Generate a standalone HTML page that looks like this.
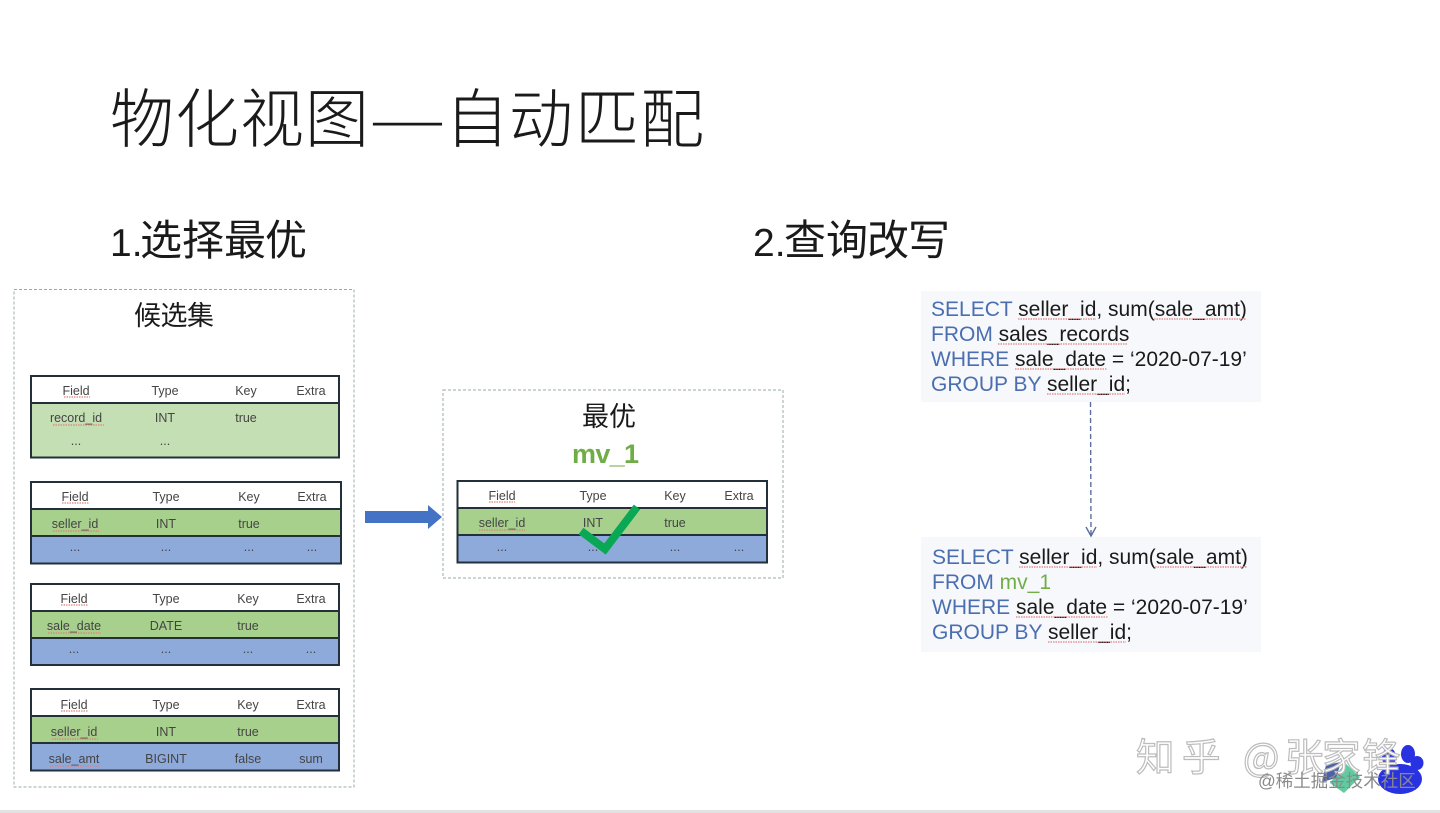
<!DOCTYPE html>
<html lang="zh">
<head>
<meta charset="utf-8">
<title>物化视图—自动匹配</title>
<style>
html,body{margin:0;padding:0;background:#fff;width:1440px;height:813px;overflow:hidden}
svg{display:block;filter:blur(0.35px)}
text{font-family:"Liberation Sans","Noto Sans CJK SC",sans-serif}
.cjk{font-family:"Noto Sans CJK SC","WenQuanYi Zen Hei",sans-serif;font-weight:300;fill:#1a1a1a}
.sub{font-family:"Noto Sans CJK SC","WenQuanYi Zen Hei",sans-serif;font-weight:400;fill:#1a1a1a}
.t text{font-size:12.5px;fill:#444;text-anchor:middle}
.t rect,.t line{stroke:#23303a;stroke-width:2}
.t .w{fill:none;stroke:#e0807c;stroke-width:1.2;stroke-dasharray:1.5 1}
.code{font-size:21px;fill:#1a1a1a}
.code .k{fill:#4a6eb0}
.u{fill:none;stroke:#e0807c;stroke-width:1.2;stroke-dasharray:1.5 1}
.wm{font-family:"Noto Sans CJK SC",sans-serif;font-size:38.5px;fill:#fff;stroke:#bcbcbc;stroke-width:1.2}
</style>
</head>
<body>
<svg width="1440" height="813" viewBox="0 0 1440 813" xmlns="http://www.w3.org/2000/svg">
<rect x="0" y="0" width="1440" height="813" fill="#fff"/>
<rect x="0" y="810" width="1440" height="3" fill="#e2e2e2"/>

<text class="cjk" font-size="64" x="110 175 240 305" y="142">物化视图</text>
<text class="cjk" font-size="64" x="369" y="142" textLength="77" lengthAdjust="spacingAndGlyphs">—</text>
<text class="cjk" font-size="64" x="445 509 575 640" y="142">自动匹配</text>
<text font-size="39" x="110" y="256" fill="#1a1a1a">1.</text>
<text class="sub" font-size="42" x="140 182 224 265" y="255">选择最优</text>
<text font-size="39" x="753" y="256" fill="#1a1a1a">2.</text>
<text class="sub" font-size="42" x="784 826 867 908" y="255">查询改写</text>

<rect x="14" y="289.500" width="340" height="497.500" fill="none" stroke="#9aa8a8" stroke-width="1" stroke-dasharray="3 2"/>
<rect x="443" y="390" width="340" height="188" fill="none" stroke="#9aa8a8" stroke-width="1" stroke-dasharray="3 2"/>

<text class="sub" font-size="27" x="134" y="325" textLength="80">候选集</text>
<text class="sub" font-size="27" x="582" y="426" textLength="54">最优</text>
<text font-size="27" font-weight="700" x="572" y="463" fill="#70ad47" textLength="67">mv_1</text>

<!-- Table 1 -->
<g class="t">
<rect x="31" y="376" width="308" height="27" fill="#fff"/>
<rect x="31" y="403" width="308" height="54.500" fill="#c5dfb4"/>
<text x="76" y="395">Field</text><text x="165" y="395">Type</text><text x="246" y="395">Key</text><text x="311" y="395">Extra</text>
<text x="76" y="422">record_id</text><text x="165" y="422">INT</text><text x="246" y="422">true</text>
<text x="76" y="445">...</text><text x="165" y="445">...</text>
<line class="w" x1="64" y1="397" x2="90" y2="397"/><line class="w" x1="53" y1="425" x2="104" y2="425"/>
</g>
<!-- Table 2 -->
<g class="t">
<rect x="31" y="482" width="310" height="27" fill="#fff"/>
<rect x="31" y="509" width="310" height="27" fill="#a8d08d"/>
<rect x="31" y="536" width="310" height="27.500" fill="#8eaadb"/>
<text x="75" y="501">Field</text><text x="166" y="501">Type</text><text x="249" y="501">Key</text><text x="312" y="501">Extra</text>
<text x="75" y="528">seller_id</text><text x="166" y="528">INT</text><text x="249" y="528">true</text>
<text x="75" y="551">...</text><text x="166" y="551">...</text><text x="249" y="551">...</text><text x="312" y="551">...</text>
<line class="w" x1="62" y1="503" x2="89" y2="503"/><line class="w" x1="53" y1="531" x2="99" y2="531"/>
</g>
<!-- Table 3 -->
<g class="t">
<rect x="31" y="584" width="308" height="27" fill="#fff"/>
<rect x="31" y="611" width="308" height="27" fill="#a8d08d"/>
<rect x="31" y="638" width="308" height="27" fill="#8eaadb"/>
<text x="74" y="603">Field</text><text x="166" y="603">Type</text><text x="248" y="603">Key</text><text x="311" y="603">Extra</text>
<text x="74" y="630">sale_date</text><text x="166" y="630">DATE</text><text x="248" y="630">true</text>
<text x="74" y="653">...</text><text x="166" y="653">...</text><text x="248" y="653">...</text><text x="311" y="653">...</text>
<line class="w" x1="61" y1="605" x2="88" y2="605"/><line class="w" x1="48" y1="633" x2="101" y2="633"/>
</g>
<!-- Table 4 -->
<g class="t">
<rect x="31" y="689" width="308" height="27" fill="#fff"/>
<rect x="31" y="716" width="308" height="27" fill="#a8d08d"/>
<rect x="31" y="743" width="308" height="27.500" fill="#8eaadb"/>
<text x="74" y="709">Field</text><text x="166" y="709">Type</text><text x="248" y="709">Key</text><text x="311" y="709">Extra</text>
<text x="74" y="736">seller_id</text><text x="166" y="736">INT</text><text x="248" y="736">true</text>
<text x="74" y="763">sale_amt</text><text x="166" y="763">BIGINT</text><text x="248" y="763">false</text><text x="311" y="763">sum</text>
<line class="w" x1="61" y1="711" x2="88" y2="711"/><line class="w" x1="52" y1="739" x2="98" y2="739"/><line class="w" x1="50" y1="766" x2="100" y2="766"/>
</g>
<!-- Best table -->
<g class="t">
<rect x="457.500" y="481" width="309.500" height="27" fill="#fff"/>
<rect x="457.500" y="508" width="309.500" height="27" fill="#a8d08d"/>
<rect x="457.500" y="535" width="309.500" height="27.500" fill="#8eaadb"/>
<text x="502" y="500">Field</text><text x="593" y="500">Type</text><text x="675" y="500">Key</text><text x="739" y="500">Extra</text>
<text x="502" y="527">seller_id</text><text x="593" y="527">INT</text><text x="675" y="527">true</text>
<text x="502" y="551">...</text><text x="593" y="551">...</text><text x="675" y="551">...</text><text x="739" y="551">...</text>
<line class="w" x1="489" y1="502" x2="515" y2="502"/><line class="w" x1="479" y1="530" x2="525" y2="530"/>
</g>

<polyline points="581,531 605,549 637,507" fill="none" stroke="#0aa855" stroke-width="8"/>
<polygon points="365,511 428,511 428,505 442,517 428,529 428,523 365,523" fill="#4472c4"/>

<!-- Code blocks -->
<rect x="921" y="291" width="340" height="111" fill="#f7f8fb"/>
<rect x="921" y="537" width="340" height="115" fill="#f7f8fb"/>

<g class="code">
<text x="931" y="316"><tspan class="k">SELECT</tspan> seller_id, sum(sale_amt)</text>
<text x="931" y="341"><tspan class="k">FROM</tspan> sales_records</text>
<text x="931" y="366"><tspan class="k">WHERE</tspan> sale_date = ‘2020-07-19’</text>
<text x="931" y="391"><tspan class="k">GROUP BY</tspan> seller_id;</text>
<text x="932" y="564"><tspan class="k">SELECT</tspan> seller_id, sum(sale_amt)</text>
<text x="932" y="589"><tspan class="k">FROM</tspan> <tspan fill="#70ad47">mv_1</tspan></text>
<text x="932" y="614"><tspan class="k">WHERE</tspan> sale_date = ‘2020-07-19’</text>
<text x="932" y="639"><tspan class="k">GROUP BY</tspan> seller_id;</text>
</g>
<g class="u">
<line x1="1018" y1="319" x2="1096" y2="319"/><line x1="1154" y1="319" x2="1246" y2="319"/>
<line x1="998" y1="344" x2="1128" y2="344"/>
<line x1="1015" y1="369" x2="1107" y2="369"/>
<line x1="1047" y1="394" x2="1125" y2="394"/>
<line x1="1019" y1="567" x2="1097" y2="567"/><line x1="1155" y1="567" x2="1247" y2="567"/>
<line x1="1016" y1="617" x2="1108" y2="617"/>
<line x1="1048" y1="642" x2="1126" y2="642"/>
</g>

<line x1="1090.500" y1="402" x2="1091" y2="535" stroke="#5a6f9f" stroke-width="1.4" stroke-dasharray="5 3"/>
<polyline points="1086,527 1091,536 1096,527" fill="none" stroke="#5a6f9f" stroke-width="1.4"/>

<!-- Watermarks -->
<polygon points="1345,763 1360,777 1344,793 1330,783" fill="#5fcba0"/>
<polygon points="1326,765 1341,762 1336,778 1322,782" fill="#4a62a8"/>
<g fill="#2932e1">
<ellipse cx="1408" cy="754" rx="7" ry="9"/>
<ellipse cx="1417" cy="763" rx="6.500" ry="7"/>
<ellipse cx="1389" cy="757" rx="7" ry="9"/>
<ellipse cx="1400" cy="779" rx="22" ry="15"/>
</g>
<text class="wm" x="1136 1182" y="771">知乎</text>
<text class="wm" x="1243 1285 1322 1362" y="771">@张家锋</text>
<text font-size="17.500" x="1258" y="787" fill="#8a8a8a" style="font-family:'Liberation Sans','Noto Sans CJK SC',sans-serif">@稀土掘金技术社区</text>
</svg>
</body>
</html>
